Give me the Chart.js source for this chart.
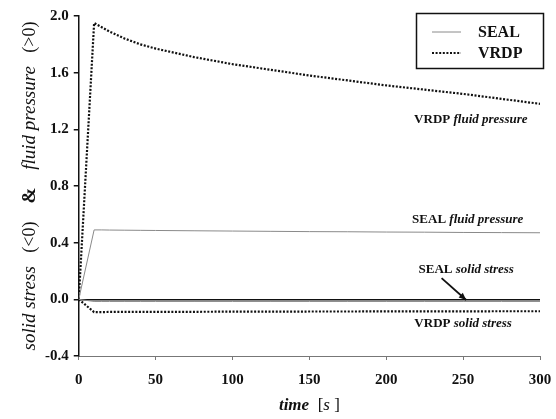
<!DOCTYPE html>
<html>
<head>
<meta charset="utf-8">
<script src="https://cdn.jsdelivr.net/npm/chart.js@4.4.1/dist/chart.umd.min.js"></script>
<style>
  html, body { margin: 0; padding: 0; background: #fff; }
  #wrap { width: 556px; height: 419px; }
</style>
</head>
<body>
<div id="wrap"><canvas id="chart"></canvas></div>
<script>
// time axis [s] and the four curves
const timeSec = [0, 10, 15, 20, 30, 40, 50, 75, 100, 125, 150, 175, 200, 225, 250, 275, 300];
const vrdpFluid = [0, 1.95, 1.92, 1.89, 1.84, 1.80, 1.77, 1.71, 1.66, 1.62, 1.58, 1.545, 1.51, 1.48, 1.45, 1.415, 1.38];
const sealFluid = [0, 0.49, 0.49, 0.489, 0.488, 0.487, 0.486, 0.484, 0.482, 0.48, 0.478, 0.477, 0.475, 0.474, 0.472, 0.471, 0.47];
const sealSolid = [0, -0.015, -0.015, -0.015, -0.015, -0.015, -0.015, -0.015, -0.015, -0.015, -0.015, -0.015, -0.015, -0.015, -0.015, -0.015, -0.015];
const vrdpSolid = [0, -0.09, -0.09, -0.089, -0.089, -0.088, -0.088, -0.088, -0.087, -0.087, -0.086, -0.086, -0.085, -0.085, -0.085, -0.084, -0.084];
const yTicks = [-0.4, 0.0, 0.4, 0.8, 1.2, 1.6, 2.0];
const xTicks = [0, 50, 100, 150, 200, 250, 300];
const seriesNames = ['SEAL', 'VRDP'];

const serif = '"Liberation Serif", "Times New Roman", serif';
const pts = ys => timeSec.map((t, i) => ({ x: t, y: ys[i] }));

const sealStyle = { borderColor: '#8a8a8a', borderWidth: 1, pointRadius: 0, fill: false };
const vrdpStyle = { borderColor: '#111', borderWidth: 2.2, borderDash: [2, 1.6], pointRadius: 0, fill: false };

// mixed-style text pieces drawn on the canvas
function drawPieces(ctx, pieces, x, y, align) {
  let total = 0;
  pieces.forEach(p => { ctx.font = p.font; total += ctx.measureText(p.text).width; });
  let cx = align === 'center' ? x - total / 2 : x;
  ctx.textAlign = 'left';
  ctx.textBaseline = 'middle';
  pieces.forEach(p => {
    ctx.font = p.font;
    ctx.fillText(p.text, cx, y);
    cx += ctx.measureText(p.text).width;
  });
}

const extras = {
  id: 'extras',
  afterDraw(chart) {
    const ctx = chart.ctx;
    const xs = chart.scales.x, ys = chart.scales.y;
    ctx.save();
    ctx.fillStyle = '#111';

    // y-axis title
    ctx.save();
    ctx.translate(30, 186);
    ctx.rotate(-Math.PI / 2);
    drawPieces(ctx, [
      { text: 'solid stress', font: `italic 19px ${serif}` },
      { text: '   (<0)    ', font: `18px ${serif}` },
      { text: '&', font: `bold 19px ${serif}` },
      { text: '    ', font: `18px ${serif}` },
      { text: 'fluid pressure', font: `italic 19px ${serif}` },
      { text: '   (>0)', font: `18px ${serif}` }
    ], 0, 0, 'center');
    ctx.restore();

    // x-axis title
    drawPieces(ctx, [
      { text: 'time', font: `italic bold 17px ${serif}` },
      { text: '  [', font: `17px ${serif}` },
      { text: 's', font: `italic 17px ${serif}` },
      { text: ' ]', font: `17px ${serif}` }
    ], (xs.left + xs.right) / 2, 406, 'center');

    // curve labels
    const bold = `bold 13px ${serif}`, boldIt = `italic bold 13px ${serif}`;
    const lab = (a, b, t, v) => drawPieces(ctx, [
      { text: a + ' ', font: bold }, { text: b, font: boldIt }
    ], xs.getPixelForValue(t), ys.getPixelForValue(v), 'center');
    lab('VRDP', 'fluid pressure', 255, 1.27);
    lab('SEAL', 'fluid pressure', 253, 0.56);
    lab('SEAL', 'solid stress', 252, 0.21);
    lab('VRDP', 'solid stress', 250, -0.17);

    // arrow to the SEAL solid stress line
    const ax0 = xs.getPixelForValue(236), ay0 = ys.getPixelForValue(0.15);
    const ax1 = xs.getPixelForValue(252), ay1 = ys.getPixelForValue(-0.005);
    ctx.strokeStyle = '#111';
    ctx.lineWidth = 1.8;
    ctx.beginPath(); ctx.moveTo(ax0, ay0); ctx.lineTo(ax1, ay1); ctx.stroke();
    const ang = Math.atan2(ay1 - ay0, ax1 - ax0);
    ctx.beginPath();
    ctx.moveTo(ax1, ay1);
    ctx.lineTo(ax1 - 8 * Math.cos(ang - 0.4), ay1 - 8 * Math.sin(ang - 0.4));
    ctx.lineTo(ax1 - 8 * Math.cos(ang + 0.4), ay1 - 8 * Math.sin(ang + 0.4));
    ctx.closePath(); ctx.fill();

    // legend box
    ctx.lineWidth = 1.5;
    ctx.strokeRect(416.5, 13.5, 127, 55);
    const rows = [{ y: 32, s: sealStyle }, { y: 53, s: vrdpStyle }];
    rows.forEach((r, i) => {
      ctx.save();
      ctx.strokeStyle = r.s.borderColor;
      ctx.lineWidth = i === 0 ? 1 : 1.8;
      ctx.setLineDash(r.s.borderDash || []);
      ctx.beginPath(); ctx.moveTo(432, r.y); ctx.lineTo(461, r.y); ctx.stroke();
      ctx.restore();
      ctx.font = `bold 16px ${serif}`;
      ctx.textAlign = 'left';
      ctx.textBaseline = 'middle';
      ctx.fillText(seriesNames[i], 478, r.y + 1);
    });
    ctx.restore();
  }
};

new Chart(document.getElementById('chart'), {
  type: 'line',
  data: {
    datasets: [
      { label: 'SEAL fluid', data: pts(sealFluid), ...sealStyle },
      { label: 'SEAL solid', data: pts(sealSolid), ...sealStyle },
      { label: 'VRDP fluid', data: pts(vrdpFluid), ...vrdpStyle },
      { label: 'VRDP solid', data: pts(vrdpSolid), ...vrdpStyle }
    ]
  },
  options: {
    responsive: true,
    maintainAspectRatio: false,
    animation: false,
    layout: { padding: { left: 40, right: 16, top: 16, bottom: 19 } },
    plugins: { legend: { display: false }, tooltip: { enabled: false } },
    elements: { line: { tension: 0 } },
    scales: {
      x: {
        type: 'linear',
        min: 0, max: 300,
        afterBuildTicks: s => { s.ticks = xTicks.map(v => ({ value: v })); },
        afterFit: s => { s.paddingRight = 0; s.paddingLeft = 0; },
        border: { display: true, color: '#777', width: 1, dash: [2, 2] },
        grid: { color: 'transparent', tickColor: '#777', tickLength: 4, drawOnChartArea: false },
        ticks: { color: '#111', font: { family: serif, size: 15, weight: 'bold' }, padding: 11 }
      },
      y: {
        min: -0.4, max: 2.0,
        afterBuildTicks: s => { s.ticks = yTicks.map(v => ({ value: v })); },
        border: { display: true, color: '#111', width: 1.5 },
        grid: {
          color: c => (c.tick && Math.abs(c.tick.value) < 1e-9) ? '#111' : 'transparent',
          lineWidth: 1.5,
          tickColor: '#111',
          tickLength: 5
        },
        ticks: {
          color: '#111',
          font: { family: serif, size: 15, weight: 'bold' },
          padding: 5,
          callback: v => v.toFixed(1)
        }
      }
    }
  },
  plugins: [extras]
});
</script>
</body>
</html>
